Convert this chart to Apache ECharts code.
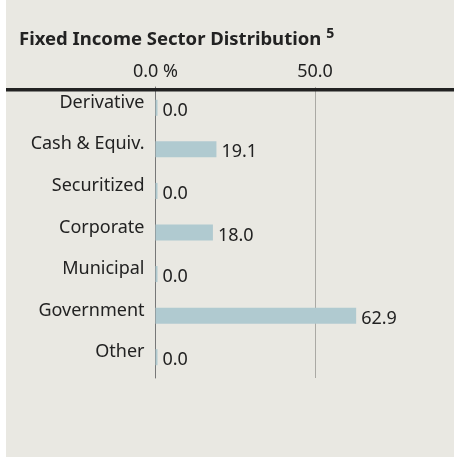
<!DOCTYPE html>
<html>
<head>
<meta charset="utf-8">
<script src="https://cdn.jsdelivr.net/npm/echarts@6/dist/echarts.min.js"></script>
<style>
  html, body { margin: 0; padding: 0; background: #fff; }
  #chart { position: absolute; left: 6px; top: 0; width: 448px; height: 457px; background: #e9e8e2; }
</style>
</head>
<body>
<div id="chart"></div>
<script>
// sector names, top to bottom
var categories = ['Derivative', 'Cash & Equiv.', 'Securitized', 'Corporate', 'Municipal', 'Government', 'Other']
var weights = [0.0, 19.1, 0.0, 18.0, 0.0, 62.9, 0.0]
var tickValues = [0, 50]

var chart = echarts.init(document.getElementById('chart'))
var font = '"Noto Sans", sans-serif'

chart.setOption({
  animation: false,
  title: {
    text: '{t|Fixed Income Sector Distribution} {s|5}',
    left: 8,
    top: 22,
    textStyle: {
      rich: {
        t: { fontFamily: font, fontWeight: 'bold', fontSize: 18.5, color: '#222' },
        s: { fontFamily: font, fontWeight: 'bold', fontSize: 14, color: '#222', verticalAlign: 'top', padding: [0, 0, 12, 0] }
      }
    }
  },
  graphic: [{
    type: 'rect',
    shape: { x: 0, y: 88, width: 448, height: 3.5 },
    style: { fill: '#222' },
    z: 10
  }],
  grid: {
    left: 149.5,
    top: 87,
    width: 319,
    height: 291,
    outerBoundsMode: 'none',
    containLabel: false
  },
  xAxis: {
    type: 'value',
    position: 'top',
    min: 0,
    max: 100,
    interval: 50,
    axisLine: { show: false },
    axisTick: { show: false },
    axisLabel: {
      margin: 6,
      showMaxLabel: false,
      fontFamily: font,
      fontSize: 18,
      color: '#222',
      formatter: function(v) {
        if (tickValues.indexOf(v) < 0) return ''
        return v === 0 ? '0.0 %' : v.toFixed(1)
      }
    },
    splitLine: { lineStyle: { color: '#aaa9a4', width: 1 } }
  },
  yAxis: {
    type: 'category',
    inverse: true,
    data: categories,
    axisLine: { lineStyle: { color: '#777', width: 1 } },
    axisTick: { show: false },
    axisLabel: {
      margin: 11,
      fontFamily: font,
      fontSize: 18,
      lineHeight: 10,
      verticalAlign: 'bottom',
      color: '#222'
    }
  },
  series: [{
    type: 'bar',
    data: weights,
    barWidth: 16,
    barMinHeight: 2,
    itemStyle: { color: '#b0cad0' },
    label: {
      show: true,
      position: 'right',
      distance: 5,
      offset: [0, 3],
      fontFamily: font,
      fontSize: 18,
      color: '#222',
      formatter: function(p) { return p.value.toFixed(1) }
    }
  }]
})
</script>
</body>
</html>
